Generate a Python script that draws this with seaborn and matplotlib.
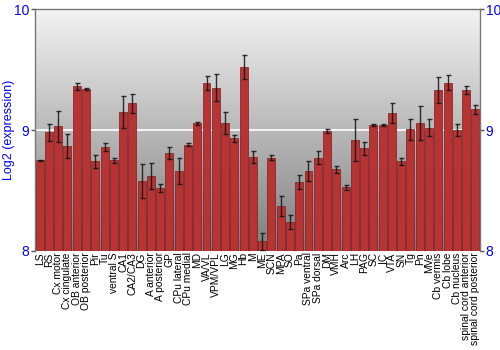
import numpy as np
import pandas as pd
import matplotlib
matplotlib.use("Agg")
import matplotlib.pyplot as plt
import seaborn as sns

regions = ["LS", "RS", "Cx motor", "Cx cingulate", "OB anterior", "OB posterior", "Pir", "Tu",
           "ventral S", "CA1", "CA2/CA3", "DG", "A anterior", "A posterior", "GP", "CPu lateral",
           "CPu medial", "MD", "VA/VL", "VPM/VPL", "LG", "MG", "Hb", "M", "ME", "SCN", "MPA", "SO",
           "Pa", "SPa ventral", "SPa dorsal", "DM", "VMH", "Arc", "LH", "PAG", "SC", "IC", "VTA",
           "SN", "Tg", "Pn", "MVe", "Cb vermis", "Cb lobe", "Cb nucleus", "spinal cord anterior",
           "spinal cord posterior"]
expression = [8.75, 8.98, 9.03, 8.87, 9.36, 9.34, 8.74, 8.86,
              8.75, 9.15, 9.22, 8.58, 8.62, 8.52, 8.81, 8.66,
              8.88, 9.055, 9.39, 9.35, 9.06, 8.93, 9.52, 8.78, 8.08, 8.77, 8.37, 8.24,
              8.57, 8.66, 8.77, 8.995, 8.675, 8.525, 8.92, 8.85, 9.04, 9.04, 9.14,
              8.74, 9.005, 9.06, 9.02, 9.33, 9.39, 9.0, 9.33,
              9.17]
errors = [0.005, 0.07, 0.13, 0.10, 0.03, 0.01, 0.05, 0.035,
          0.02, 0.13, 0.08, 0.14, 0.11, 0.035, 0.05, 0.11,
          0.015, 0.01, 0.06, 0.11, 0.09, 0.025, 0.10, 0.05, 0.07, 0.02, 0.085, 0.055,
          0.055, 0.08, 0.055, 0.016, 0.03, 0.018, 0.175, 0.054, 0.007, 0.007, 0.08,
          0.03, 0.09, 0.14, 0.07, 0.107, 0.063, 0.047, 0.034,
          0.039]
y_ticks = [8, 9, 10]

df = pd.DataFrame({"region": regions, "expression": expression, "err": errors})

sns.set_theme(style="white")
plt.rcParams['font.family'] = ['Liberation Sans', 'DejaVu Sans']

fig = plt.figure(figsize=(5, 3.5), dpi=100)
ax = fig.add_axes([0.07, 0.283, 0.89, 0.691])

# gradient background (light at top, darker at bottom)
grad = np.linspace(0, 1, 256).reshape(-1, 1)
cmap = matplotlib.colors.LinearSegmentedColormap.from_list("bg", ["#f3f3f3", "#7e7e7e"])
ax.imshow(grad, cmap=cmap, aspect="auto", extent=(-0.5, len(regions) - 0.5, 8, 10),
          zorder=0, origin="upper")

ax.axhline(9, color="white", lw=1.2, zorder=1)

sns.barplot(data=df, x="region", y="expression", ax=ax, color="#b83434",
            saturation=1, width=0.86, edgecolor="#7a1c1c", linewidth=0.5, zorder=2)
for p in ax.patches:
    p.set_zorder(2)

xs = np.arange(len(regions))
ax.errorbar(xs, df["expression"], yerr=df["err"], fmt="none", ecolor="#111111",
            elinewidth=1.0, capsize=1.8, capthick=1.0, alpha=0.85, zorder=3)

ax.set_ylim(8, 10)
ax.set_xlim(-0.5, len(regions) - 0.5)
ax.set_yticks(y_ticks)
ax.set_yticklabels([str(t) for t in y_ticks])
ax.tick_params(axis="y", colors="#555555", labelcolor="blue", labelsize=10, length=3,
               width=1, direction="out", left=True, right=True, labelleft=True, labelright=True,
               pad=1)
ax.tick_params(axis="x", labelsize=7.4, length=0, pad=1, labelcolor="black")
plt.setp(ax.get_xticklabels(), rotation=90, ha="center", va="top")
ax.set_xlabel("")
ax.set_ylabel("Log2 (expression)", color="blue", fontsize=9)
ax.yaxis.set_label_coords(-0.045, 0.5)

for side in ["left", "right", "top"]:
    ax.spines[side].set_visible(True)
    ax.spines[side].set_color("#777777")
    ax.spines[side].set_linewidth(1)
ax.spines["bottom"].set_visible(False)

fig.savefig("out.png", dpi=100)
